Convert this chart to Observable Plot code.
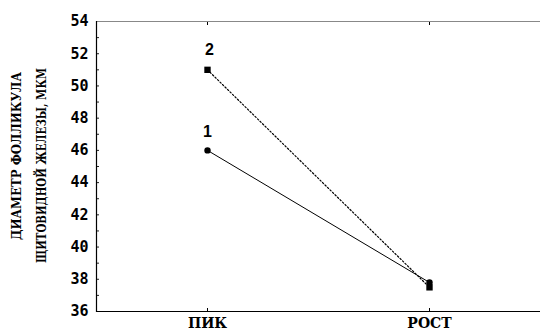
<!DOCTYPE html>
<html>
<head>
<meta charset="utf-8">
<script src="https://cdn.jsdelivr.net/npm/d3@7"></script>
<script src="https://cdn.jsdelivr.net/npm/@observablehq/plot@0.6"></script>
<style>
  html, body { margin: 0; padding: 0; background: white; }
  #chart { width: 541px; height: 332px; }
</style>
</head>
<body>
<div id="chart"></div>
<script>
const categories = ["ПИК", "РОСТ"];
const series1 = [46, 37.8];
const series2 = [51, 37.5];
const seriesNames = ["1", "2"];
const yTicks = [36, 38, 40, 42, 44, 46, 48, 50, 52, 54];
const yMinorTicks = d3.range(36, 55, 1);
const yTitle = ["ДИАМЕТР ФОЛЛИКУЛА", "ЩИТОВИДНОЙ ЖЕЛЕЗЫ, МКМ"];

const rows1 = categories.map((c, i) => ({cat: c, v: series1[i], s: seriesNames[0]}));
const rows2 = categories.map((c, i) => ({cat: c, v: series2[i], s: seriesNames[1]}));

const serif = "'DejaVu Serif', serif";
const sansMono = "'DejaVu Sans Mono', monospace";

const chart = Plot.plot({
  width: 541,
  height: 332,
  marginLeft: 96,
  marginRight: 1,
  marginTop: 21,
  marginBottom: 21,
  style: {background: "white", color: "black"},
  x: {type: "point", domain: categories, padding: 0.5},
  y: {domain: [36, 54]},
  marks: [
    Plot.axisY(yTicks, {tickSize: 0, tickPadding: 8, fontFamily: sansMono, fontWeight: "bold", fontSize: 15, letterSpacing: 1.5, label: null, fill: "black"}),
    Plot.axisY(yMinorTicks, {tickSize: -3, text: null, label: null, stroke: "#222"}),
    Plot.axisX({tickSize: 0, tickPadding: 7, fontFamily: serif, fontWeight: "bold", fontSize: 14, letterSpacing: 1, label: null, fill: "black"}),
    Plot.axisX({anchor: "bottom", tickSize: -3, text: null, label: null}),
    Plot.axisX({anchor: "top", tickSize: -3, text: null, label: null}),
    Plot.ruleY([54], {stroke: "#888", strokeWidth: 1.2}),
    Plot.ruleY([36], {stroke: "black", strokeWidth: 1.2}),
    Plot.frame({anchor: "left", stroke: "black", strokeWidth: 1.2}),
    Plot.line(rows1, {x: "cat", y: "v", stroke: "black", strokeWidth: 1}),
    Plot.line(rows2, {x: "cat", y: "v", stroke: "black", strokeWidth: 1.2, strokeDasharray: "1.5,2"}),
    Plot.dot(rows1, {x: "cat", y: "v", r: 3.2, fill: "black", symbol: "circle"}),
    Plot.dot(rows2, {x: "cat", y: "v", r: 3.6, fill: "black", symbol: "square"}),
    Plot.text([rows1[0]], {x: "cat", y: "v", text: "s", dy: -19, fontFamily: "'Liberation Sans', Arial, sans-serif", fontWeight: "bold", fontSize: 16, fill: "black"}),
    Plot.text([rows2[0]], {x: "cat", y: "v", text: "s", dy: -20, dx: 2, fontFamily: "'Liberation Sans', Arial, sans-serif", fontWeight: "bold", fontSize: 16, fill: "black"})
  ]
});

const svg = d3.select(chart);
svg.append("text")
  .attr("transform", "translate(21,156) rotate(-90)")
  .attr("text-anchor", "middle")
  .attr("font-family", serif).attr("font-weight", "bold").attr("font-size", 12.5)
  .attr("textLength", 168).attr("lengthAdjust", "spacingAndGlyphs")
  .attr("fill", "black")
  .text(yTitle[0]);
svg.append("text")
  .attr("transform", "translate(46,165.5) rotate(-90)")
  .attr("text-anchor", "middle")
  .attr("font-family", serif).attr("font-weight", "bold").attr("font-size", 12.5)
  .attr("textLength", 195).attr("lengthAdjust", "spacingAndGlyphs")
  .attr("fill", "black")
  .text(yTitle[1]);

document.getElementById("chart").appendChild(chart);
</script>
</body>
</html>
